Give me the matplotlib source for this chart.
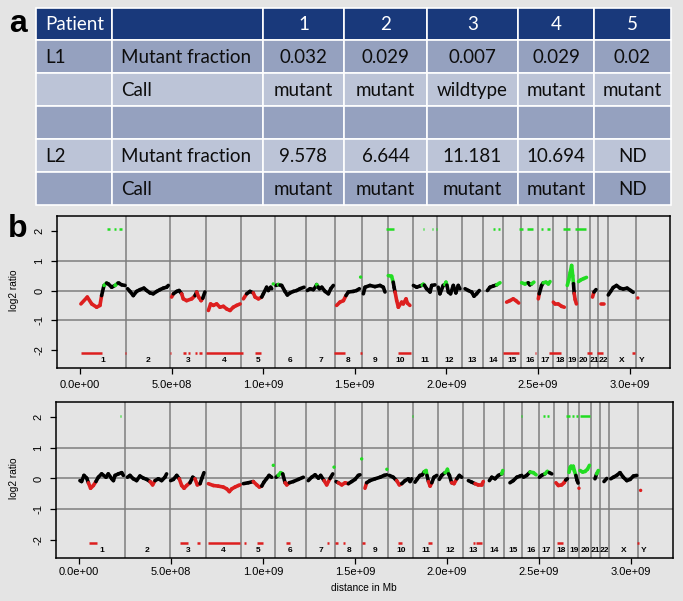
import matplotlib
matplotlib.use('Agg')
import matplotlib.pyplot as plt
from matplotlib.collections import LineCollection
from matplotlib.patches import Rectangle
from matplotlib.ticker import FuncFormatter

# ---------------- panel a : table ----------------
col_heads = ['Patient', '', '1', '2', '3', '4', '5']
table_rows = [
    ['L1', 'Mutant fraction', '0.032', '0.029', '0.007', '0.029', '0.02'],
    ['', 'Call', 'mutant', 'mutant', 'wildtype', 'mutant', 'mutant'],
    ['', '', '', '', '', '', ''],
    ['L2', 'Mutant fraction', '9.578', '6.644', '11.181', '10.694', 'ND'],
    ['', 'Call', 'mutant', 'mutant', 'mutant', 'mutant', 'ND'],
]

# ---------------- panel b : copy number profiles ----------------
chroms = [str(i) for i in range(1, 23)] + ['X', 'Y']
chrom_len = [249.3, 243.2, 198.0, 191.2, 180.9, 171.1, 159.1, 146.4, 141.2, 135.5,
             135.0, 133.9, 115.2, 107.3, 102.5, 90.4, 81.2, 78.1, 59.1, 63.0,
             48.1, 51.3, 155.3, 59.4]

# L1: genome position (Mb), log2 ratio and colour code (r/k/g) per chromosome
l1_pos = [
    [5, 40, 64, 91, 109, 118, 131, 145, 155, 173, 191, 205, 213, 228, 246],
    [260, 273, 291, 309, 328, 349, 364, 382, 400, 419, 437, 455, 473, 482],
    [500, 510, 528, 541, 555, 564, 582, 610, 628, 637, 648, 661, 670, 682],
    [701, 713, 728, 746, 764, 783, 801, 819, 837, 855, 874],
    [892, 910, 928, 946, 956, 974, 992, 1001, 1019, 1028, 1041, 1047],
    [1070, 1083, 1092, 1101, 1119, 1132, 1147, 1165, 1183, 1201, 1223],
    [1241, 1256, 1274, 1286, 1292, 1300, 1307, 1320, 1338, 1356, 1369, 1383],
    [1401, 1419, 1438, 1452, 1465, 1492, 1510, 1525],
    [1547, 1556, 1583, 1610, 1638, 1656, 1665],
    [1683, 1701, 1710, 1715, 1720, 1729, 1738, 1756, 1765, 1780, 1787, 1801],
    [1820, 1838, 1856, 1868, 1874, 1880, 1892, 1911, 1920, 1938],
    [1956, 1965, 1983, 1992, 1998, 2003, 2011, 2023, 2038, 2052, 2065, 2074],
    [2102, 2120, 2138, 2151, 2165, 2180],
    [2224, 2238, 2256, 2275, 2293],
    [2329, 2347, 2365, 2380, 2395],
    [2411, 2429, 2447, 2456, 2465, 2478],
    [2502, 2507, 2520, 2529, 2544, 2557, 2566],
    [2584, 2593, 2611, 2629, 2644],
    [2660, 2668, 2676, 2684, 2690, 2694, 2698, 2703, 2710],
    [2722, 2735, 2750, 2765],
    [2798, 2806, 2817],
    [2846, 2858],
    [2884, 2897, 2911, 2929, 2948, 2966, 2987, 3006, 3020],
    [],
]
l1_val = [
    [-0.45, -0.22, -0.45, -0.56, -0.50, -0.17, 0.17, 0.25, 0.22, 0.11, 0.17, 0.24, 0.24, 0.19, 0.17],
    [0.06, -0.03, -0.17, -0.03, 0.03, 0.08, 0.0, -0.08, -0.11, -0.03, 0.03, 0.08, 0.11, 0.17],
    [-0.22, -0.11, -0.03, 0.0, -0.11, -0.28, -0.34, -0.28, -0.17, -0.05, -0.22, -0.34, -0.26, -0.05],
    [-0.67, -0.45, -0.50, -0.45, -0.56, -0.53, -0.62, -0.67, -0.56, -0.50, -0.45],
    [-0.28, -0.11, -0.03, -0.08, -0.22, -0.28, -0.22, -0.11, 0.11, 0.0, 0.11, 0.06],
    [0.17, 0.20, 0.18, 0.17, -0.03, -0.15, -0.08, -0.03, 0.0, 0.06, 0.11],
    [0.0, 0.06, 0.03, 0.12, 0.20, 0.12, 0.06, 0.11, -0.03, -0.11, 0.06, 0.17],
    [-0.50, -0.39, -0.34, -0.17, -0.05, -0.03, 0.0, 0.06],
    [-0.11, 0.11, 0.17, 0.13, 0.17, 0.11, -0.05],
    [0.50, 0.48, 0.28, 0.10, -0.05, -0.34, -0.56, -0.39, -0.45, -0.28, -0.42, -0.50],
    [0.17, 0.11, 0.15, 0.18, 0.21, 0.18, 0.06, -0.05, 0.17, 0.19],
    [0.11, -0.11, 0.17, 0.20, 0.28, 0.18, -0.05, -0.11, 0.17, -0.08, 0.17, 0.06],
    [0.06, 0.0, -0.05, -0.19, -0.11, 0.0],
    [0.0, 0.11, 0.15, 0.19, 0.26],
    [-0.39, -0.34, -0.28, -0.34, -0.42],
    [0.26, 0.22, 0.26, 0.19, 0.22, 0.28],
    [-0.28, -0.11, 0.17, 0.26, 0.28, 0.22, 0.30],
    [-0.39, -0.45, -0.45, -0.53, -0.56],
    [0.17, 0.35, 0.60, 0.84, 0.50, 0.23, -0.10, -0.30, -0.45],
    [0.30, 0.36, 0.40, 0.44],
    [-0.22, -0.05, 0.03],
    [-0.45, -0.45],
    [-0.15, -0.03, 0.10, 0.17, 0.08, 0.05, 0.08, 0.0, -0.06],
    [],
]
l1_col = ['rrrrrkgkkkgkkkk', 'kkkkkkkkkkkkkk', 'rkkkrrrrkrrrkk', 'rrrrrrrrrrr',
          'rkkrrrkkkkkk', 'kgkkkkkkkkk', 'kkkkgkkkkkkk', 'rrrkkkkk', 'kkkkkkk',
          'ggkkrrrrrrrr', 'kkkggkkkkk', 'kkkggkkkkkkk', 'kkkkkk', 'kkkgg', 'rrrrr',
          'ggkkgg', 'rkkgggg', 'rrrrr', 'gggggkrrr', 'gggg', 'rkk', 'rr',
          'kkkkkkkkk', '']
l1_dot_pos = [1055, 1532, 3045]
l1_dot_val = [0.22, 0.45, -0.25]
l1_dot_col = 'ggr'
l1_gain_start = [147, 185, 215, 1670, 1872, 1923, 1943, 2256, 2280, 2398, 2438, 2515, 2548, 2638, 2702]
l1_gain_end = [162, 195, 232, 1714, 1877, 1928, 1948, 2265, 2293, 2420, 2471, 2530, 2565, 2675, 2762]
l1_loss_start = [3, 245, 490, 560, 590, 628, 652, 688, 956, 1385, 1530, 1734, 2311, 2482, 2558, 2770, 2820, 3012]
l1_loss_end = [118, 253, 498, 580, 602, 640, 664, 892, 990, 1447, 1538, 1805, 2395, 2490, 2624, 2793, 2857, 3030]

# L2
l2_pos = [
    [5, 14, 27, 42, 51, 63, 78, 92, 105, 123, 147, 159, 178, 187, 196, 214, 232, 241],
    [263, 277, 295, 313, 331, 350, 368, 386, 400, 413, 431, 449, 467, 476],
    [498, 513, 531, 545, 558, 571, 585, 603, 618, 630, 643, 658, 668, 679],
    [703, 730, 757, 784, 803, 817, 830, 848, 866, 875],
    [893, 920, 947, 966, 980, 993, 1005, 1019, 1033, 1047],
    [1071, 1083, 1096, 1107, 1120, 1129, 1143, 1165, 1192, 1219],
    [1246, 1264, 1283, 1301, 1313, 1332, 1346, 1364, 1379],
    [1397, 1409, 1428, 1446, 1464, 1482, 1500, 1518, 1527],
    [1554, 1563, 1581, 1609, 1636, 1658, 1672],
    [1687, 1708, 1726, 1741, 1754, 1772, 1790, 1799, 1808],
    [1826, 1839, 1853, 1866, 1876, 1886, 1891, 1899, 1908, 1917, 1929, 1944],
    [1958, 1971, 1989, 1997, 2002, 2008, 2013, 2025, 2038, 2053, 2067, 2080],
    [2116, 2134, 2152, 2170, 2188, 2197],
    [2230, 2243, 2261, 2279, 2297, 2303],
    [2342, 2360, 2379, 2397, 2406],
    [2415, 2433, 2451, 2469, 2484],
    [2502, 2514, 2532, 2545, 2556, 2569],
    [2592, 2605, 2623, 2636, 2645, 2654],
    [2663, 2668, 2674, 2680, 2686, 2692, 2700, 2706, 2712],
    [2723, 2737, 2750, 2763, 2774],
    [2804, 2813, 2822],
    [2853, 2868],
    [2890, 2904, 2922, 2940, 2958, 2977, 2995, 3013, 3031],
    [],
]
l2_val = [
    [-0.07, -0.10, 0.10, 0.01, -0.14, -0.32, -0.23, -0.10, 0.04, 0.15, 0.04, 0.15, -0.01, -0.07, 0.10, 0.15, 0.19, 0.10],
    [0.04, 0.10, -0.01, -0.07, 0.08, 0.01, -0.03, -0.10, -0.21, -0.07, -0.01, -0.07, 0.04, 0.15],
    [-0.07, -0.03, 0.10, -0.01, -0.23, -0.32, -0.23, -0.14, 0.04, -0.01, -0.21, -0.17, 0.01, 0.19],
    [-0.17, -0.23, -0.25, -0.28, -0.34, -0.43, -0.34, -0.28, -0.23, -0.21],
    [-0.17, -0.14, -0.10, -0.21, -0.28, -0.25, -0.12, -0.01, 0.10, 0.04],
    [0.04, 0.10, 0.19, 0.15, -0.14, -0.21, -0.14, -0.10, -0.03, 0.04],
    [-0.07, 0.04, 0.12, 0.01, 0.10, -0.07, -0.21, 0.0, 0.15],
    [-0.10, -0.14, -0.21, -0.14, -0.17, -0.10, -0.03, 0.10, 0.12],
    [-0.32, -0.14, -0.07, -0.01, 0.04, 0.10, 0.12],
    [0.10, 0.04, -0.07, -0.21, -0.17, -0.07, -0.01, -0.10, -0.01],
    [-0.12, -0.01, 0.10, 0.12, 0.22, 0.26, 0.10, -0.10, -0.25, -0.14, 0.04, 0.10],
    [-0.03, 0.10, 0.19, 0.22, 0.30, 0.15, 0.10, -0.14, -0.17, -0.01, 0.10, 0.04],
    [-0.07, -0.12, -0.17, -0.21, -0.21, -0.10],
    [-0.07, 0.04, -0.01, 0.10, 0.15, 0.26],
    [-0.14, -0.07, 0.04, 0.08, 0.10],
    [0.04, 0.10, 0.21, 0.19, 0.12],
    [0.04, 0.10, 0.15, 0.23, 0.19, 0.15],
    [-0.14, -0.23, -0.21, -0.14, -0.05, -0.01],
    [0.20, 0.35, 0.40, 0.33, 0.40, 0.25, 0.10, -0.05, -0.15],
    [0.26, 0.21, 0.23, 0.30, 0.43],
    [-0.01, 0.15, 0.26],
    [-0.10, 0.0],
    [-0.01, 0.04, 0.10, 0.19, 0.04, -0.07, -0.03, 0.08, 0.10],
    [],
]
l2_col = ['kkkkrrrkkkkkkkkkkk', 'kkkkkkkrrkkkkk', 'kkkrrrrkkrrkkk', 'rrrrrrrrrr',
          'kkrrrkkkkk', 'kggkrrkkkk', 'kkkkkrrkk', 'krrrkkkkk', 'rkkkkkk',
          'kkrrkkkkk', 'kkkkggkrrkkk', 'kkgggkkrrkkk', 'kkrrrk', 'kkkkgg', 'kkkkk',
          'kkggk', 'kkggkk', 'rrrrkk', 'ggggggkkk', 'ggggg', 'kgg', 'kk',
          'kkkkkkkkk', '']
l2_dot_pos = [1056, 1386, 1536, 1673, 2717, 3052]
l2_dot_val = [0.43, 0.37, 0.64, 0.30, -0.32, -0.39]
l2_dot_col = 'ggggrr'
l2_gain_start = [224, 1811, 1878, 2404, 2522, 2544, 2645, 2680, 2700, 2722, 2813]
l2_gain_end = [228, 1815, 1882, 2408, 2530, 2554, 2668, 2690, 2712, 2775, 2817]
l2_loss_start = [54, 549, 639, 703, 897, 969, 1125, 1350, 1391, 1437, 1536, 1735, 1899, 2143, 2158, 2596, 3031]
l2_loss_end = [98, 594, 658, 875, 908, 998, 1147, 1357, 1409, 1447, 1554, 1754, 1917, 2150, 2188, 2629, 3045]

x_ticks = [0, 5e8, 1e9, 1.5e9, 2e9, 2.5e9, 3e9]
y_ticks = [-2, -1, 0, 1, 2]

colours = {'r': '#dd1f1f', 'k': '#000000', 'g': '#22dd22'}
bg_col = '#e4e4e4'
grid_col = '#7d7d7d'

plt.rcParams['font.family'] = ['Liberation Sans', 'DejaVu Sans']

W, H = 683, 601
fig = plt.figure(figsize=(W / 100, H / 100), dpi=100, facecolor=bg_col)

# pixel-space overlay for the table and free text
bg = fig.add_axes([0, 0, 1, 1], zorder=-1)
bg.set_xlim(0, W)
bg.set_ylim(H, 0)
bg.axis('off')
bg.set_facecolor(bg_col)

col_edges = [36, 112, 263, 344, 427, 518, 594, 671]
row_edges = [8, 40, 73, 106, 139, 172, 205]
head_col = '#19397b'
dark_row = '#95a1bf'
light_row = '#bcc4d7'
row_cols = [head_col, dark_row, light_row, dark_row, light_row, dark_row]
tfont = 'Lato'

all_rows = [col_heads] + table_rows
for r, cells in enumerate(all_rows):
    y0, y1 = row_edges[r], row_edges[r + 1]
    for c, txt in enumerate(cells):
        x0, x1 = col_edges[c], col_edges[c + 1]
        bg.add_patch(Rectangle((x0, y0), x1 - x0, y1 - y0, facecolor=row_cols[r],
                               edgecolor='white', linewidth=1.2))
        if not txt:
            continue
        tc = 'white' if r == 0 else '#0d0d0d'
        yc = (y0 + y1) / 2 + 1
        if c < 2:
            bg.text(x0 + 9, yc, txt, ha='left', va='center', fontsize=13.5,
                    color=tc, family=tfont)
        else:
            bg.text((x0 + x1) / 2, yc, txt, ha='center', va='center', fontsize=13.5,
                    color=tc, family=tfont)

bg.text(18, 24, 'a', ha='center', va='center', fontsize=23, fontweight='bold')
bg.text(18, 229, 'b', ha='center', va='center', fontsize=23, fontweight='bold')

# chromosome boundaries (Mb)
starts = [0]
for L in chrom_len[:-1]:
    starts.append(starts[-1] + L)
ends = [s + L for s, L in zip(starts, chrom_len)]
mids = [s + L / 2 for s, L in zip(starts, chrom_len)]


def draw_profile(ax, pos, val, col, dpos, dval, dcol, gs, ge, ls, le, xlim, pad):
    ax.set_facecolor('none')
    ax.set_xlim(*xlim)
    ax.set_ylim(-2.6, 2.5)
    for yv in (-1, 0, 1):
        ax.axhline(yv, color=grid_col, lw=1.1, zorder=1)
    for e in ends[:-1]:
        ax.axvline(e * 1e6, color=grid_col, lw=1.1, zorder=1)
    for name, m in zip(chroms, mids):
        ax.text(m * 1e6, -2.36, name, ha='center', va='center', fontsize=6,
                fontweight='bold', zorder=3)

    segs, cols = [], []
    for p, v, c in zip(pos, val, col):
        for i in range(len(p) - 1):
            segs.append([(p[i] * 1e6, v[i]), (p[i + 1] * 1e6, v[i + 1])])
            cols.append(colours[c[i]])
    ax.add_collection(LineCollection(segs, colors=cols, linewidths=2.6,
                                     capstyle='round', zorder=4))
    ax.scatter([p * 1e6 for p in dpos], dval, s=6, c=[colours[c] for c in dcol],
               linewidths=0, zorder=4)
    ax.hlines([2.05] * len(gs), [s * 1e6 for s in gs], [e * 1e6 for e in ge],
              color=colours['g'], lw=1.8, zorder=4)
    ax.hlines([-2.1] * len(ls), [s * 1e6 for s in ls], [e * 1e6 for e in le],
              color=colours['r'], lw=1.8, zorder=4)

    ax.set_xticks(x_ticks)
    ax.set_yticks(y_ticks)
    ax.xaxis.set_major_formatter(FuncFormatter(lambda v, p: f'{v:.1e}'))
    ax.yaxis.set_major_formatter(FuncFormatter(lambda v, p: f'{v:.0f}'))
    ax.tick_params(axis='x', length=4, width=0.9, labelsize=8, pad=pad)
    ax.tick_params(axis='y', length=4, width=0.9, labelsize=8, pad=5, labelrotation=90)
    for lab in ax.get_yticklabels():
        lab.set_va('center')
    for sp in ax.spines.values():
        sp.set_linewidth(1.1)


ax1 = fig.add_axes([57 / W, 1 - 368 / H, 613 / W, 152 / H])
draw_profile(ax1, l1_pos, l1_val, l1_col, l1_dot_pos, l1_dot_val, l1_dot_col,
             l1_gain_start, l1_gain_end, l1_loss_start, l1_loss_end,
             (-1.255e8, 3.221e9), 4.5)

ax2 = fig.add_axes([56 / W, 1 - 558 / H, 617 / W, 156 / H])
draw_profile(ax2, l2_pos, l2_val, l2_col, l2_dot_pos, l2_dot_val, l2_dot_col,
             l2_gain_start, l2_gain_end, l2_loss_start, l2_loss_end,
             (-1.25e8, 3.228e9), 2.5)

bg.text(14, 290, 'log2 ratio', rotation=90, ha='center', va='center', fontsize=7.3)
bg.text(14, 478, 'log2 ratio', rotation=90, ha='center', va='center', fontsize=7.3)
bg.text(364, 588, 'distance in Mb', ha='center', va='center', fontsize=7.3)

fig.savefig('out.png', dpi=100, facecolor=bg_col)
